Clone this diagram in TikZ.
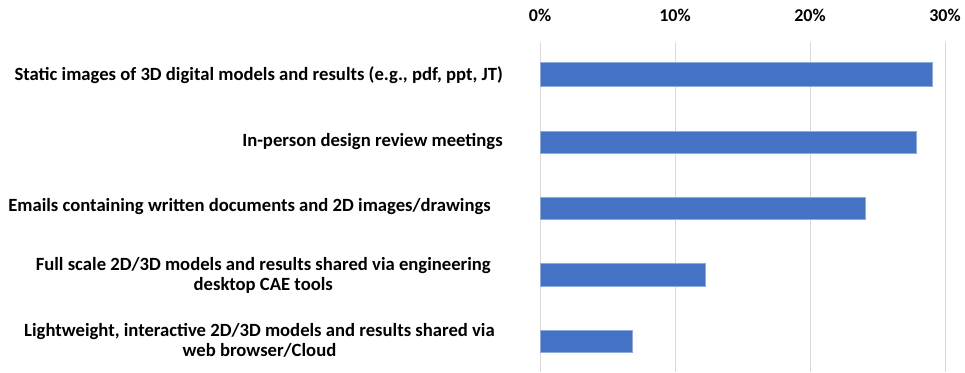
\documentclass[tikz,border=0pt]{standalone}
\usepackage{fontspec}
\setmainfont{Carlito}
\definecolor{barblue}{HTML}{4472C4}
\definecolor{gridgray}{HTML}{D9D9D9}
\begin{document}
\begin{tikzpicture}[
				x=0.75pt, y=-0.75pt,
				grid/.style={draw=gridgray, line width=0.7pt},
				bar/.style={fill=barblue, draw=barblue!60!white, line width=0.5pt},
				tick/.style={font=\fontsize{13.5}{15}\selectfont\bfseries, inner sep=0pt},
				label/.style={font=\fontsize{14}{15}\selectfont\bfseries, align=center, anchor=east, inner sep=0pt}
				]
			\useasboundingbox (0,0) rectangle (965,372);
			% axis ticks
			\node [tick] (t0) at (540,15) {0\%};
			\node [tick] (t10) at (675,15) {10\%};
			\node [tick] (t20) at (810,15) {20\%};
			\node [tick] (t30) at (945,15) {30\%};
			% grid
			\draw [grid] (540,42) -- (540,372);
			\draw [grid] (675,42) -- (675,372);
			\draw [grid] (810,42) -- (810,372);
			\draw [grid] (945,42) -- (945,372);
			% bars
			\draw [bar] (540,62) rectangle (932,86);
			\draw [bar] (540,131) rectangle (916,153);
			\draw [bar] (540,197) rectangle (865,219);
			\draw [bar] (540,263) rectangle (705,286);
			\draw [bar] (540,330) rectangle (632,352);
			% labels
			\node [label] (static) at (503,75) {Static images of 3D digital models and results (e.g., pdf, ppt, JT)};
			\node [label] (meeting) at (503,142) {In-person design review meetings};
			\node [label] (email) at (491,207) {Emails containing written documents and 2D images/drawings};
			\node [label] (cae) at (491,275) {Full scale 2D/3D models and results shared via engineering\\desktop CAE tools};
			\node [label] (cloud) at (495,340) {Lightweight, interactive 2D/3D models and results shared via\\web browser/Cloud};
			\end{tikzpicture}
\end{document}
